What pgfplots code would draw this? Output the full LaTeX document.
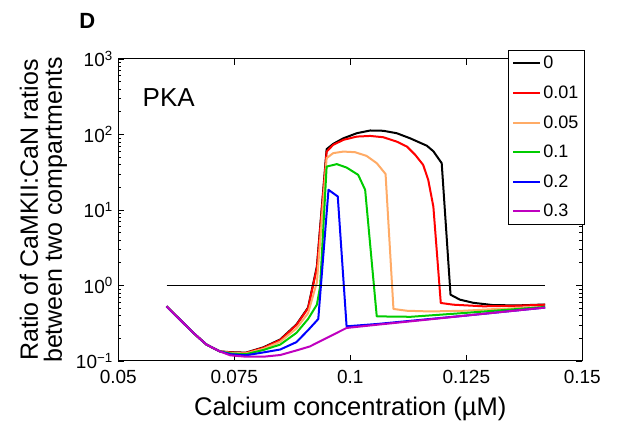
\documentclass[border=0pt]{standalone}
\usepackage{fontspec}
\setmainfont{Liberation Sans}
\usepackage{pgfplots}
\pgfplotsset{compat=1.18}

\definecolor{corange}{rgb}{1,0.67,0.4}
\definecolor{cgreen}{rgb}{0,0.8,0}
\definecolor{cpurple}{rgb}{0.75,0,0.75}

\begin{document}
\begin{tikzpicture}
\begin{axis}[
    name=ax,
    scale only axis,
    width=464pt, height=302pt,
    xmin=0.05, xmax=0.15,
    ymode=log, ymin=0.1, ymax=1000,
    xtick={0.05,0.075,0.1,0.125,0.15},
    xticklabels={0.05,0.075,0.1,0.125,0.15},
    ytick={0.1,1,10,100,1000},
    yticklabels={10\textsuperscript{−1},10\textsuperscript{0},10\textsuperscript{1},10\textsuperscript{2},10\textsuperscript{3}},
    tick align=inside,
    major tick length=6pt, minor tick length=3pt,
    every tick/.style={black, line width=0.6pt},
    axis line style={line width=1pt},
    ticklabel style={font=\fontsize{19}{19}\selectfont},
    xticklabel style={yshift=-6pt},
    yticklabel style={xshift=-2pt},
    xlabel={Calcium concentration (µM)},
    xlabel style={font=\fontsize{25.5}{25.5}\selectfont, yshift=-6pt},
    ylabel={Ratio of CaMKII:CaN ratios\\between two compartments},
    ylabel style={font=\fontsize{25}{24}\selectfont, align=center, yshift=2pt},
    legend style={at={(0.84,1.03)}, anchor=north west, draw=black, line width=0.8pt,
        font=\fontsize{18}{18}\selectfont, row sep=11.5pt, inner sep=4pt},
    legend cell align=left,
    legend image code/.code={\draw[#1] (0pt,0pt) -- (27pt,0pt);},
    every axis plot/.append style={line width=2pt, line join=round},
    clip=false,
]
\addplot[black] coordinates {
(0.0604,0.53)(0.0633,0.353)(0.0662,0.235)(0.0690,0.165)(0.0719,0.134)
(0.0741,0.131)(0.0775,0.129)(0.0813,0.152)(0.0849,0.193)(0.0884,0.305)
(0.0909,0.51)(0.0928,1.79)(0.0949,64)(0.0963,75)(0.0985,89)(0.1014,104)
(0.1043,113)(0.1071,112)(0.1100,104)(0.1129,89)(0.1150,78)(0.1165,71)
(0.1179,60)(0.1197,41.7)(0.1216,0.755)(0.1236,0.65)(0.1265,0.59)
(0.1308,0.55)(0.1360,0.545)(0.1420,0.56)};
\addlegendentry{0}
\addplot[red] coordinates {
(0.0604,0.53)(0.0633,0.353)(0.0662,0.235)(0.0690,0.165)(0.0719,0.134)
(0.0741,0.130)(0.0775,0.128)(0.0813,0.150)(0.0849,0.19)(0.0884,0.30)
(0.0909,0.50)(0.0928,1.7)(0.0949,59.4)(0.0963,72.8)(0.0985,84.9)
(0.1014,93.8)(0.1043,95.7)(0.1071,92)(0.1100,80.5)(0.1122,69.2)
(0.1140,53.7)(0.1157,39.6)(0.1168,25)(0.1179,11.1)(0.1195,0.587)
(0.1222,0.557)(0.1287,0.53)(0.1360,0.54)(0.1420,0.557)};
\addlegendentry{0.01}
\addplot[corange] coordinates {
(0.0604,0.53)(0.0633,0.353)(0.0662,0.235)(0.0690,0.165)(0.0719,0.134)
(0.0741,0.128)(0.0775,0.126)(0.0813,0.145)(0.0849,0.18)(0.0884,0.27)
(0.0909,0.43)(0.0928,1.1)(0.0949,48.6)(0.0963,56.6)(0.0985,59.4)
(0.1010,58.3)(0.1035,52.1)(0.1057,41.7)(0.1076,30)(0.1093,0.489)
(0.1122,0.463)(0.1172,0.453)(0.1244,0.463)(0.1316,0.489)(0.1420,0.52)};
\addlegendentry{0.05}
\addplot[cgreen] coordinates {
(0.0604,0.53)(0.0633,0.353)(0.0662,0.235)(0.0690,0.165)(0.0719,0.134)
(0.0741,0.126)(0.0775,0.123)(0.0813,0.140)(0.0849,0.165)(0.0884,0.236)
(0.0909,0.36)(0.0928,0.557)(0.0935,0.97)(0.0949,37.6)(0.0971,40.5)
(0.0992,36.5)(0.1017,29.2)(0.1032,18.5)(0.1057,0.39)(0.1130,0.385)
(0.1240,0.43)(0.1420,0.52)};
\addlegendentry{0.1}
\addplot[blue] coordinates {
(0.0604,0.53)(0.0633,0.353)(0.0662,0.235)(0.0690,0.165)(0.0719,0.134)
(0.0741,0.123)(0.0775,0.119)(0.0813,0.130)(0.0849,0.142)(0.0884,0.178)
(0.0909,0.256)(0.0931,0.36)(0.0953,18.5)(0.0973,15.1)(0.0992,0.288)
(0.1060,0.31)(0.1150,0.35)(0.1250,0.40)(0.1420,0.51)};
\addlegendentry{0.2}
\addplot[cpurple] coordinates {
(0.0604,0.53)(0.0633,0.353)(0.0662,0.235)(0.0690,0.165)(0.0719,0.134)
(0.0741,0.119)(0.0775,0.114)(0.0813,0.114)(0.0849,0.12)(0.0884,0.138)
(0.0913,0.156)(0.0942,0.192)(0.0963,0.223)(0.0992,0.274)(0.1064,0.305)
(0.1150,0.345)(0.1250,0.40)(0.1420,0.51)};
\addlegendentry{0.3}
\addplot[black, line width=1.3pt, forget plot] coordinates {(0.0604,1)(0.1420,1)};
\node[anchor=west, font=\fontsize{26}{26}\selectfont] at (rel axis cs:0.045,0.871) {PKA};
\end{axis}
\node[font=\fontsize{22}{22}\selectfont\bfseries] at ([xshift=-31pt,yshift=38pt]ax.north west) {D};
\pgfresetboundingbox
\path ([xshift=-118.3pt,yshift=-70pt]ax.south west) rectangle ++(625pt,431pt);
\end{tikzpicture}
\end{document}
